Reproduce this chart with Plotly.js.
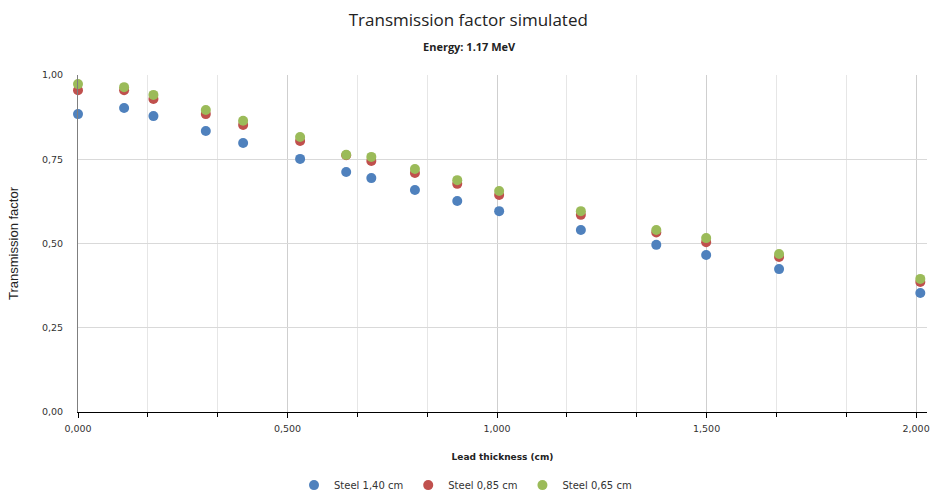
<!DOCTYPE html>
<html>
<head>
<meta charset="utf-8">
<script src="https://cdn.plot.ly/plotly-3.0.1.min.js"></script>
<style>html,body{margin:0;padding:0;background:#fff;}#chart{width:931px;height:491px;}</style>
</head>
<body>
<div id="chart"></div>
<script>
const thickness = [0.000, 0.110, 0.180, 0.305, 0.394, 0.530, 0.640, 0.700, 0.804, 0.905, 1.005, 1.200, 1.380, 1.499, 1.673, 2.010];
const steel140 = [0.884, 0.902, 0.878, 0.834, 0.798, 0.751, 0.712, 0.694, 0.659, 0.626, 0.596, 0.540, 0.496, 0.466, 0.424, 0.353];
const steel085 = [0.955, 0.955, 0.929, 0.884, 0.852, 0.804, 0.762, 0.745, 0.709, 0.677, 0.644, 0.585, 0.533, 0.504, 0.460, 0.386];
const steel065 = [0.973, 0.964, 0.941, 0.896, 0.864, 0.816, 0.763, 0.757, 0.721, 0.688, 0.656, 0.596, 0.540, 0.516, 0.469, 0.395];
const seriesNames = ['Steel 1,40 cm', 'Steel 0,85 cm', 'Steel 0,65 cm'];
const seriesColors = ['#4F81BD', '#C0504D', '#9BBB59'];
const seriesValues = [steel140, steel085, steel065];

const traces = seriesValues.map((vals, i) => ({
  type: 'scatter', mode: 'markers', x: thickness, y: vals, name: seriesNames[i],
  marker: {color: seriesColors[i], size: 10}, cliponaxis: false
}));

const layout = {
  width: 931, height: 491,
  margin: {l: 78, r: 4, t: 75, b: 79, autoexpand: false},
  separators: ', ',
  paper_bgcolor: '#fff', plot_bgcolor: '#fff',
  font: {family: 'DejaVu Sans', size: 9, color: '#333'},
  title: {text: 'Transmission factor simulated', font: {family: 'Open Sans', size: 17, color: '#222'},
          x: 0.503, xref: 'container', xanchor: 'center', y: 0.96, yref: 'container', yanchor: 'middle'},
  annotations: [{text: '<b>Energy: 1.17 MeV</b>', xref: 'paper', yref: 'paper', x: 0.461, y: 1.086,
                 xanchor: 'center', yanchor: 'middle', showarrow: false,
                 font: {family: 'Open Sans', size: 11, color: '#222'}}],
  xaxis: {
    range: [0, 2.026], dtick: 0.5, tick0: 0, tickformat: '.3f',
    showgrid: true, gridcolor: '#cfcfcf', gridwidth: 1,
    showline: true, linecolor: '#000', linewidth: 1,
    ticks: 'outside', ticklen: 5, tickcolor: '#000',
    zeroline: false, ticklabelstandoff: 3,
    minor: {dtick: 0.5/3, tick0: 0, showgrid: true, gridcolor: '#e6e6e6', ticks: 'outside', ticklen: 4, tickcolor: '#000'},
    tickfont: {family: 'DejaVu Sans', size: 9.5, color: '#333'},
    title: {text: '<b>Lead thickness (cm)</b>', font: {family: 'DejaVu Sans', size: 9, color: '#222'}, standoff: 20}
  },
  yaxis: {
    range: [0, 1], dtick: 0.25, tickformat: '.2f',
    showgrid: true, gridcolor: '#d9d9d9', gridwidth: 1,
    showline: true, linecolor: '#7f7f7f', linewidth: 1,
    zeroline: false, ticks: '', ticklen: 0, ticklabelstandoff: 12,
    tickfont: {family: 'DejaVu Sans', size: 9.5, color: '#333'},
    title: {text: 'Transmission factor', font: {family: 'Liberation Sans', size: 13, color: '#222'}, standoff: 20}
  },
  showlegend: true,
  legend: {orientation: 'h', x: 0.5, xref: 'container', xanchor: 'center', y: 0.012, yref: 'container', yanchor: 'middle',
           font: {family: 'DejaVu Sans', size: 10, color: '#333'}, itemwidth: 30, tracegroupgap: 0}
};

Plotly.newPlot('chart', traces, layout, {displayModeBar: false, staticPlot: true});
</script>
</body>
</html>
